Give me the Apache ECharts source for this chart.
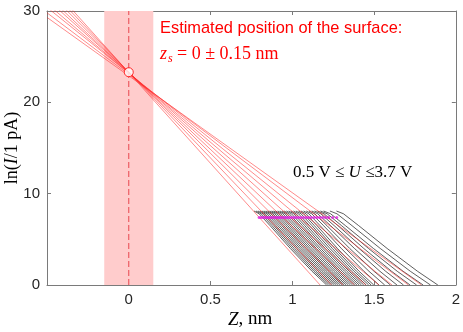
<!DOCTYPE html>
<html>
<head>
<meta charset="utf-8">
<script src="https://cdn.jsdelivr.net/npm/echarts@6/dist/echarts.min.js"></script>
<style>
  html, body { margin: 0; padding: 0; background: #fff; }
  #chart { width: 463px; height: 332px; }
</style>
</head>
<body>
<div id="chart"></div>
<script>
// axis ticks
const xTicks = [-0.5, 0, 0.5, 1, 1.5, 2];
const yTicks = [0, 10, 20, 30];

// surface estimate
const surfaceZ = 0;
const surfaceErr = 0.15;
const crossPoint = [0, 23.3];

// red fit lines: y where they enter at Z = -0.5, and Z where they reach ln(I) = 0
const fitStartY = [29.3, 29.8, 30.4, 30.8, 31.3, 31.7, 32.2, 32.7, 33.2];
const fitEndX = [1.79, 1.71, 1.61, 1.53, 1.45, 1.38, 1.31, 1.24, 1.17];

// measured curves: Z values at these ln(I) levels, one row per bias voltage
const curveY = [8.1, 7.8, 6.5, 4, 1.5, 0];
const curveX = [
  [0.766, 0.797, 0.864, 0.988, 1.121, 1.210],
  [0.778, 0.809, 0.876, 1.000, 1.133, 1.222],
  [0.790, 0.821, 0.888, 1.012, 1.145, 1.234],
  [0.802, 0.833, 0.900, 1.024, 1.157, 1.246],
  [0.814, 0.845, 0.912, 1.036, 1.169, 1.258],
  [0.826, 0.857, 0.924, 1.048, 1.181, 1.270],
  [0.838, 0.869, 0.936, 1.060, 1.193, 1.282],
  [0.850, 0.881, 0.948, 1.072, 1.205, 1.294],
  [0.862, 0.893, 0.960, 1.084, 1.217, 1.306],
  [0.874, 0.905, 0.972, 1.096, 1.229, 1.318],
  [0.886, 0.917, 0.984, 1.108, 1.241, 1.330],
  [0.898, 0.929, 0.996, 1.121, 1.254, 1.343],
  [0.911, 0.942, 1.009, 1.134, 1.267, 1.356],
  [0.924, 0.955, 1.022, 1.147, 1.280, 1.369],
  [0.937, 0.968, 1.035, 1.160, 1.293, 1.382],
  [0.950, 0.981, 1.048, 1.173, 1.306, 1.395],
  [0.964, 0.995, 1.062, 1.187, 1.320, 1.409],
  [0.978, 1.009, 1.076, 1.201, 1.334, 1.423],
  [0.992, 1.023, 1.090, 1.215, 1.348, 1.437],
  [1.007, 1.038, 1.105, 1.230, 1.363, 1.452],
  [1.022, 1.053, 1.120, 1.245, 1.378, 1.467],
  [1.037, 1.068, 1.135, 1.260, 1.393, 1.482],
  [1.053, 1.084, 1.151, 1.276, 1.409, 1.498],
  [1.069, 1.101, 1.170, 1.300, 1.438, 1.530],
  [1.085, 1.119, 1.191, 1.325, 1.469, 1.565],
  [1.102, 1.137, 1.212, 1.351, 1.500, 1.600],
  [1.119, 1.155, 1.234, 1.380, 1.536, 1.640],
  [1.136, 1.174, 1.256, 1.408, 1.571, 1.680],
  [1.154, 1.194, 1.279, 1.437, 1.607, 1.720],
  [1.172, 1.213, 1.301, 1.466, 1.642, 1.760],
  [1.191, 1.234, 1.325, 1.496, 1.678, 1.800],
  [1.230, 1.273, 1.365, 1.538, 1.722, 1.845],
  [1.270, 1.313, 1.406, 1.580, 1.766, 1.890]
];

// magenta fit-range markers
const markerY = 7.4;
const markerX = [0.797, 0.809, 0.821, 0.833, 0.845, 0.857, 0.869, 0.881, 0.893, 0.905,
  0.917, 0.929, 0.942, 0.955, 0.968, 0.981, 0.995, 1.009, 1.023, 1.038, 1.053, 1.068,
  1.084, 1.100, 1.116, 1.133, 1.150, 1.167, 1.185, 1.203, 1.222, 1.247, 1.272];

const chart = echarts.init(document.getElementById('chart'));

const axisColor = '#7a7a7a';
const labelFont = { fontFamily: 'Liberation Sans', fontSize: 15, color: '#262626' };

function xAxisCfg(pos, showLabel) {
  return {
    type: 'value', position: pos, min: -0.5, max: 2, interval: 0.5,
    axisLine: { show: true, onZero: false, lineStyle: { color: axisColor, width: 1 } },
    axisTick: { show: true, inside: true, length: 4, lineStyle: { color: axisColor } },
    axisLabel: {
      show: showLabel, margin: 7, ...labelFont,
      formatter: v => (v === -0.5 ? '' : String(v))
    },
    splitLine: { show: false }
  };
}
function yAxisCfg(pos, showLabel) {
  return {
    type: 'value', position: pos, min: 0, max: 30, interval: 10,
    axisLine: { show: true, onZero: false, lineStyle: { color: axisColor, width: 1 } },
    axisTick: { show: true, inside: true, length: 4, lineStyle: { color: axisColor } },
    axisLabel: { show: showLabel, margin: 7, ...labelFont },
    splitLine: { show: false }
  };
}

let series = [];

// band + dashed surface line
series.push({
  type: 'line',
  data: [[surfaceZ, 0], [surfaceZ, 30]],
  symbol: 'none',
  lineStyle: { color: '#e8484f', width: 1, type: [6, 3] },
  z: 3,
  markArea: {
    silent: true,
    itemStyle: { color: 'rgb(255,204,204)' },
    data: [[{ xAxis: surfaceZ - surfaceErr }, { xAxis: surfaceZ + surfaceErr }]]
  }
});

// black measured curves
curveX.forEach(row => {
  series.push({
    type: 'line',
    data: row.map((x, i) => [x, curveY[i]]),
    symbol: 'none',
    lineStyle: { color: '#1a1a1a', width: 0.7 },
    z: 4
  });
});

// red fits
fitStartY.forEach((y0, i) => {
  series.push({
    type: 'line',
    data: [[-0.5, y0], [fitEndX[i], 0]],
    symbol: 'none',
    lineStyle: { color: 'rgba(255,40,40,0.6)', width: 0.9 },
    z: 5
  });
});

// magenta markers
series.push({
  type: 'scatter',
  data: markerX.map(x => [x, markerY]),
  symbol: 'circle',
  symbolSize: 3,
  itemStyle: { color: '#e01ee0' },
  z: 6
});

// crossing point
series.push({
  type: 'scatter',
  data: [crossPoint],
  symbol: 'circle',
  symbolSize: 9,
  itemStyle: { color: '#fff', borderColor: '#ff0000', borderWidth: 1 },
  z: 7
});

const option = {
  animation: false,
  backgroundColor: '#fff',
  grid: { left: 47, right: 5, top: 11, bottom: 47 },
  xAxis: [xAxisCfg('bottom', true), xAxisCfg('top', false)],
  yAxis: [yAxisCfg('left', true), yAxisCfg('right', false)],
  series: series,
  graphic: [
    {
      type: 'text', left: 160, top: 20,
      style: { text: 'Estimated position of the surface:', fill: '#ff0000',
        fontFamily: 'Liberation Sans', fontSize: 16.4 }
    },
    {
      type: 'text', left: 160, top: 45,
      style: { text: 'z', fill: '#ff0000', fontFamily: 'Liberation Serif',
        fontStyle: 'italic', fontSize: 18 }
    },
    {
      type: 'text', left: 168, top: 53,
      style: { text: 's', fill: '#ff0000', fontFamily: 'Liberation Serif',
        fontStyle: 'italic', fontSize: 12 }
    },
    {
      type: 'text', left: 177, top: 45,
      style: { text: '= 0 ± 0.15 nm', fill: '#ff0000', fontFamily: 'Liberation Serif',
        fontSize: 18 }
    },
    {
      type: 'text', left: 293, top: 164,
      style: {
        text: '{n|0.5 V ≤ }{i|U}{n| ≤3.7 V}',
        rich: {
          n: { fontFamily: 'Liberation Serif', fontSize: 17, color: '#000' },
          i: { fontFamily: 'Liberation Serif', fontSize: 17, fontStyle: 'italic', color: '#000' }
        }
      }
    },
    {
      type: 'text', left: 228, top: 310,
      style: {
        text: '{i|Z}{n|, nm}',
        rich: {
          n: { fontFamily: 'Liberation Serif', fontSize: 19, color: '#262626' },
          i: { fontFamily: 'Liberation Serif', fontSize: 19, fontStyle: 'italic', color: '#262626' }
        }
      }
    },
    {
      type: 'text', x: 3, y: 148, rotation: Math.PI / 2,
      style: {
        text: '{n|ln(}{i|I}{n|/1 pA)}',
        align: 'center', verticalAlign: 'top',
        rich: {
          n: { fontFamily: 'Liberation Serif', fontSize: 18, color: '#262626' },
          i: { fontFamily: 'Liberation Serif', fontSize: 18, fontStyle: 'italic', color: '#262626' }
        }
      }
    }
  ]
};

chart.setOption(option);
</script>
</body>
</html>
